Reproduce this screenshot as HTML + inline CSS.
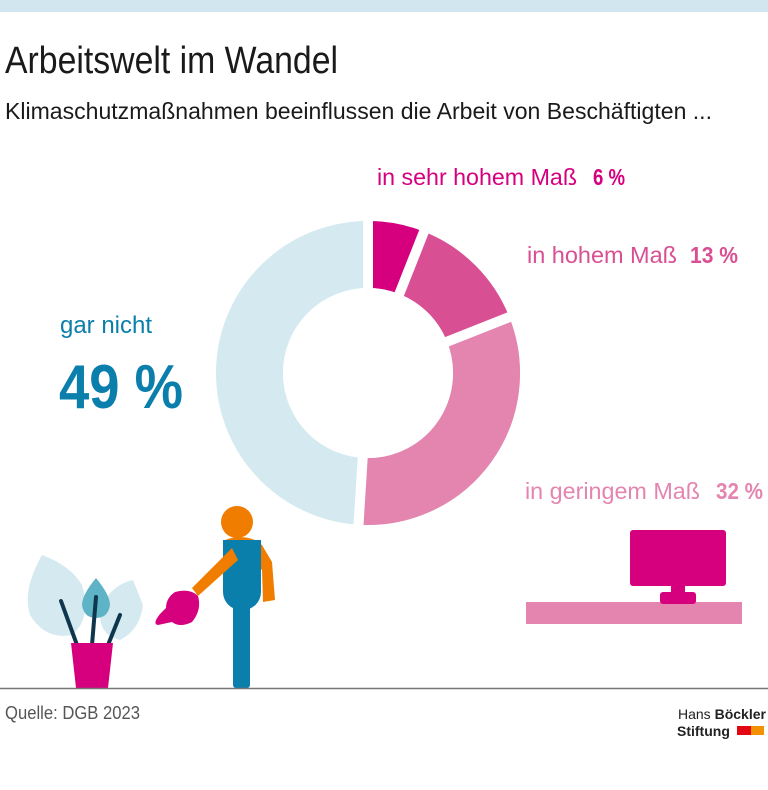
<!DOCTYPE html>
<html><head><meta charset="utf-8"><style>
html,body{margin:0;padding:0;background:#fff;}
svg{display:block;}
text{font-family:"Liberation Sans Narrow","Liberation Sans",sans-serif;}
</style></head><body>
<svg width="768" height="790" viewBox="0 0 768 790" xmlns="http://www.w3.org/2000/svg">
<rect x="0" y="0" width="768" height="12" fill="#d2e6ef"/>
<text x="5" y="73" font-size="38" fill="#1a1a1a" textLength="333" lengthAdjust="spacingAndGlyphs">Arbeitswelt im Wandel</text>
<text x="5" y="119" font-size="23" fill="#1a1a1a" textLength="707" lengthAdjust="spacingAndGlyphs">Klimaschutzmaßnahmen beeinflussen die Arbeit von Beschäftigten ...</text>

<g transform="translate(368,373)" fill="none" stroke-width="67">
  <circle r="118.5" stroke="#d5eaf0"/>
  <path d="M0,-118.5 A118.5,118.5 0 0 1 43.6,-110.2" stroke="#d6007f"/>
  <path d="M43.6,-110.2 A118.5,118.5 0 0 1 110.2,-43.6" stroke="#d94f93"/>
  <path d="M110.2,-43.6 A118.5,118.5 0 0 1 -7.4,118.3" stroke="#e485b0"/>
  <g stroke="#fff" stroke-width="10">
    <line x1="0" y1="0" x2="0" y2="-160"/>
    <line x1="0" y1="0" x2="58.9" y2="-148.8"/>
    <line x1="0" y1="0" x2="148.8" y2="-58.9"/>
    <line x1="0" y1="0" x2="-10" y2="160"/>
  </g>
  <circle r="85" fill="#fff" stroke="none"/>
</g>

<text x="377" y="185" font-size="23" fill="#d6007f" textLength="200" lengthAdjust="spacingAndGlyphs">in sehr hohem Maß</text>
<text x="593" y="185" font-size="23" font-weight="bold" fill="#d6007f" textLength="32" lengthAdjust="spacingAndGlyphs">6 %</text>
<text x="527" y="263" font-size="23" fill="#d94f93" textLength="150" lengthAdjust="spacingAndGlyphs">in hohem Maß</text>
<text x="690" y="263" font-size="23" font-weight="bold" fill="#d94f93" textLength="48" lengthAdjust="spacingAndGlyphs">13 %</text>
<text x="525" y="499" font-size="23" fill="#e485b0" textLength="175" lengthAdjust="spacingAndGlyphs">in geringem Maß</text>
<text x="716" y="499" font-size="23" font-weight="bold" fill="#e485b0" textLength="47" lengthAdjust="spacingAndGlyphs">32 %</text>
<text x="60" y="333" font-size="24" fill="#0b7fab" textLength="92" lengthAdjust="spacingAndGlyphs">gar nicht</text>
<text x="59" y="408" font-size="62" font-weight="bold" fill="#0b7fab" textLength="124" lengthAdjust="spacingAndGlyphs">49 %</text>

<!-- plant -->
<path d="M42,555 Q22,590 30,615 Q45,640 72,635 Q92,618 82,585 Q70,565 42,555Z" fill="#d5eaf0"/>
<path d="M133,580 Q110,585 100,610 Q98,635 120,640 Q140,630 143,605 Z" fill="#d5eaf0"/>
<path d="M96,578 Q82,595 82,605 Q84,618 96,618 Q108,618 110,605 Q110,595 96,578Z" fill="#5fb3c6"/>
<g stroke="#10364d" stroke-width="4" stroke-linecap="round">
<line x1="61" y1="601" x2="77" y2="645"/>
<line x1="96" y1="597" x2="92" y2="645"/>
<line x1="120" y1="615" x2="108" y2="645"/>
</g>
<path d="M71,643 L113,643 L108,688 L76,688Z" fill="#d6007f"/>

<!-- person -->
<circle cx="237" cy="522" r="16" fill="#f07d00"/>
<path d="M225,540 Q240,534 255,540 L262,545 L272,562 L275,600 L263,602 L262,570 Z" fill="#f07d00"/>
<rect x="223" y="540" width="38" height="70" rx="18" fill="#0b7fab"/>
<rect x="223" y="540" width="38" height="30" fill="#0b7fab"/>
<rect x="233" y="595" width="17" height="93" rx="3" fill="#0b7fab"/>
<path d="M232,548 L238,560 L198,596 L192,588Z" fill="#f07d00"/>
<path d="M175,592 Q190,588 198,596 Q202,610 192,622 Q180,628 172,622 L158,625 Q152,624 160,614 L166,608 Q166,598 175,592Z" fill="#d6007f"/>
<rect x="526" y="602" width="216" height="22" fill="#e485b0"/>
<rect x="630" y="530" width="96" height="56" rx="3" fill="#d6007f"/>
<rect x="671" y="584" width="14" height="10" fill="#d6007f"/>
<rect x="660" y="592" width="36" height="12" rx="3" fill="#d6007f"/>

<line x1="0" y1="688.5" x2="768" y2="688.5" stroke="#777" stroke-width="1.5"/>
<text x="5" y="719" font-size="18" fill="#555" textLength="135" lengthAdjust="spacingAndGlyphs">Quelle: DGB 2023</text>
<text x="678" y="719" font-size="14" fill="#222" font-family="Liberation Sans, sans-serif">Hans <tspan font-weight="bold">Böckler</tspan></text>
<text x="677" y="736" font-size="14" font-weight="bold" fill="#222" font-family="Liberation Sans, sans-serif">Stiftung</text>
<rect x="737" y="726" width="14" height="9" fill="#e30613"/>
<rect x="751" y="726" width="13" height="9" fill="#f39200"/>
</svg>
</body></html>
